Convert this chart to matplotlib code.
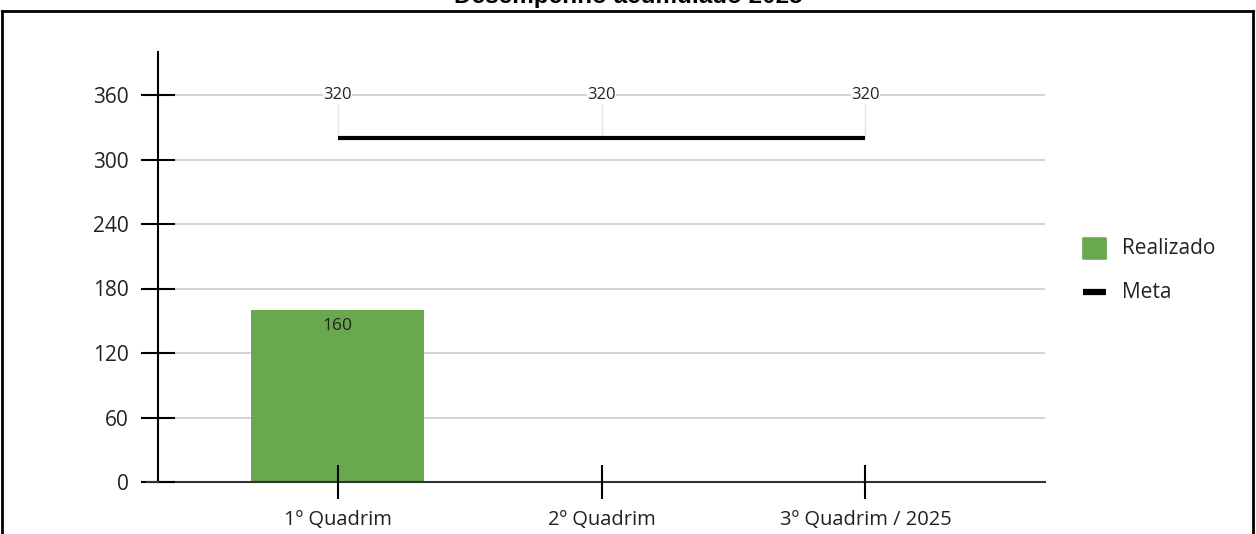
import matplotlib
matplotlib.use("Agg")
import matplotlib.pyplot as plt
from matplotlib.lines import Line2D
from matplotlib.patches import FancyBboxPatch

categories = ["1º Quadrim", "2º Quadrim", "3º Quadrim / 2025"]
realizado = [160, None, None]
meta = [320, 320, 320]
yticks = [0, 60, 120, 180, 240, 300, 360]
title = "Desempenho acumulado 2025"
legend_labels = ["Realizado", "Meta"]

W, H = 1256, 534
plt.rcParams['font.family'] = ['Open Sans', 'DejaVu Sans']
fig = plt.figure(figsize=(W / 100, H / 100), dpi=100)

def fx(px):
    return px / W

def fy(py):
    return 1 - py / H

ax = fig.add_axes([fx(158), fy(482), fx(1045) - fx(158), fy(52) - fy(482)])
ax.set_xlim(-0.68, 2.68)
ax.set_ylim(0, 400)

x = list(range(len(categories)))
green = "#6aa84f"
for t in yticks[1:]:
    ax.axhline(t, color="#cccccc", lw=1.2, zorder=0)

for i, v in enumerate(realizado):
    if v is not None:
        ax.bar(i, v, width=0.655, color=green, zorder=1)
        ax.text(i, v - 7, str(v), ha="center", va="top", fontsize=12.5, color="#222222", zorder=4)

ax.plot(x, meta, color="black", lw=3, solid_capstyle="butt", zorder=3)
for i, v in enumerate(meta):
    ax.plot([i, i], [v, 360], color="#e4e4e4", lw=1, zorder=0.5)
    ax.text(i, 360, str(v), ha="center", va="center", fontsize=12, color="#222222",
            bbox=dict(facecolor="white", edgecolor="none", pad=0.4), zorder=4)

ax.set_yticks(yticks)
ax.set_yticklabels([str(t) for t in yticks], fontsize=15, color="#222222")
ax.set_xticks(x)
ax.set_xticklabels(categories, fontsize=14.5, color="#222222")
ax.set_axisbelow(False)
for s in ["top", "right"]:
    ax.spines[s].set_visible(False)
ax.spines["left"].set_linewidth(1.5)
ax.spines["bottom"].set_linewidth(1.5)
ax.spines["bottom"].set_color("#333333")
ax.tick_params(axis="y", direction="inout", length=24, width=1.5, pad=9)
ax.tick_params(axis="x", direction="inout", length=24, width=1.5, pad=8)
# extend baseline to the left like the reference
ax.plot([-0.68 - 11 / 264, -0.68], [0, 0], color="#333333", lw=1.5, clip_on=False, zorder=3)

# legend (manual)
fig.add_artist(FancyBboxPatch((fx(1084), fy(259)), fx(1105) - fx(1084), fy(238) - fy(259),
                              boxstyle="round,pad=0.0015", facecolor=green, edgecolor="none",
                              transform=fig.transFigure))
fig.text(fx(1122), fy(248), legend_labels[0], ha="left", va="center", fontsize=15, color="#222222")
fig.add_artist(Line2D([fx(1083), fx(1106)], [fy(292), fy(292)], color="black", lw=4.5,
                      solid_capstyle="butt", transform=fig.transFigure))
fig.text(fx(1122), fy(292), legend_labels[1], ha="left", va="center", fontsize=15, color="#222222")

# title (cut off at top like the reference)
fig.text(0.5, fy(3), title, ha="center", va="baseline", fontsize=17.5, fontweight="bold",
         family=["Liberation Sans", "DejaVu Sans"])

# frame
fig.add_artist(Line2D([fx(2), fx(1253)], [fy(11), fy(11)], color="black", lw=2, transform=fig.transFigure))
fig.add_artist(Line2D([fx(2), fx(2)], [fy(11), 0], color="black", lw=2, transform=fig.transFigure))
fig.add_artist(Line2D([fx(1253), fx(1253)], [fy(11), 0], color="black", lw=2, transform=fig.transFigure))

fig.savefig("out.png", dpi=100)
